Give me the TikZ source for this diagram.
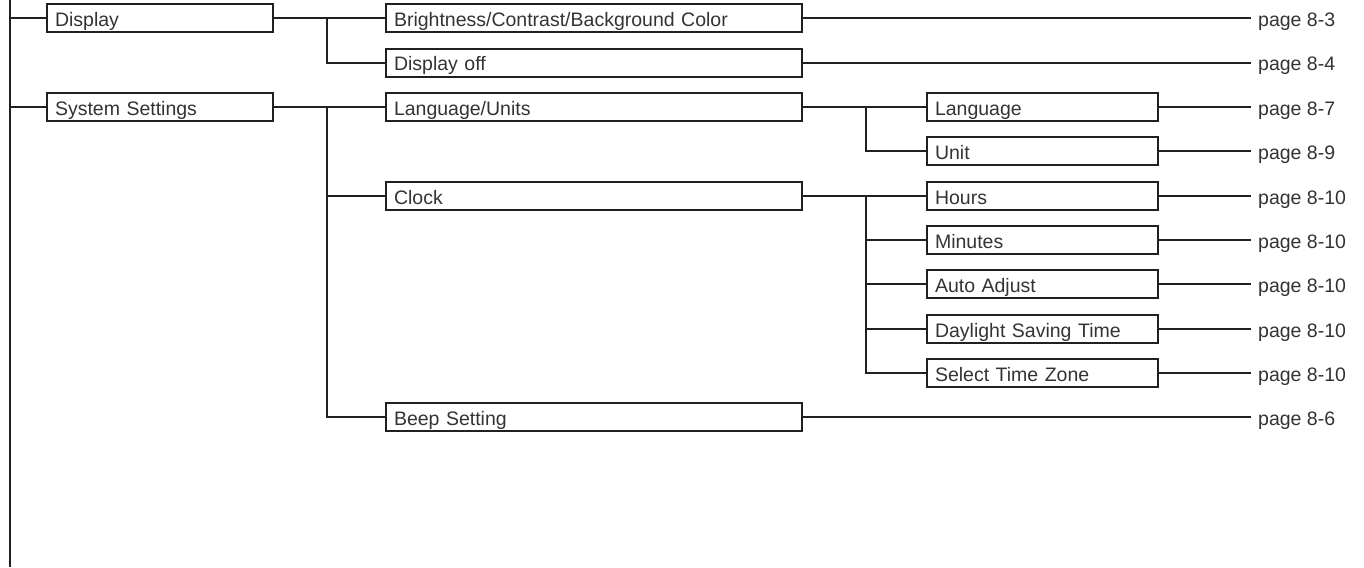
\documentclass[tikz,border=0pt]{standalone}
\usepackage{fontspec}
\setmainfont{Liberation Sans}
\definecolor{ink}{HTML}{231F20}
\definecolor{txt}{HTML}{333333}
\tikzset{
  conn/.style={draw=ink, line width=2pt},
  boxbase/.style={draw=ink, line width=2pt, rectangle, anchor=west, minimum height=28pt,
    inner xsep=8pt, inner ysep=0pt, align=left, text height=16.6pt, text depth=0pt,
    font=\fontsize{19.5}{20}\selectfont, text=txt},
  boxA/.style={boxbase, text width=210pt},
  boxB/.style={boxbase, text width=400pt},
  boxC/.style={boxbase, text width=215pt},
  pagelbl/.style={anchor=base west, inner xsep=7.5pt, inner ysep=0pt,
    font=\fontsize{19.5}{20}\selectfont, text=txt}
}
\begin{document}
\begin{tikzpicture}[x=1pt,y=-1pt]
\useasboundingbox (0,0) rectangle (1364,567);
\def\rA{18.3}\def\rB{62.65}\def\rC{107.0}\def\rD{151.35}\def\rE{195.7}
\def\rF{240.05}\def\rG{284.4}\def\rH{328.75}\def\rI{373.1}\def\rJ{417.45}
\coordinate (trunkTop) at (9.5,0);
\coordinate (trunkBot) at (9.5,567);
\coordinate (vA) at (327,0);
\coordinate (vB) at (866,0);
% level 1
\node[boxA] (disp) at (46,\rA) {Display};
\node[boxA] (sys) at (46,\rC) {System Settings};
% level 2
\node[boxB] (bright) at (385,\rA) {Brightness/Contrast/Background Color};
\node[boxB] (doff) at (385,\rB) {Display off};
\node[boxB] (lang) at (385,\rC) {Language/Units};
\node[boxB] (clock) at (385,\rE) {Clock};
\node[boxB] (beep) at (385,\rJ) {Beep Setting};
% level 3
\node[boxC] (language) at (926,\rC) {Language};
\node[boxC] (unit) at (926,\rD) {Unit};
\node[boxC] (hours) at (926,\rE) {Hours};
\node[boxC] (minutes) at (926,\rF) {Minutes};
\node[boxC] (auto) at (926,\rG) {Auto Adjust};
\node[boxC] (dst) at (926,\rH) {Daylight Saving Time};
\node[boxC] (tz) at (926,\rI) {Select Time Zone};
% page labels
\node[pagelbl] (pBright) at (1250.5,\rA+8.3) {page 8-3};
\node[pagelbl] (pDoff) at (1250.5,\rB+8.3) {page 8-4};
\node[pagelbl] (pLanguage) at (1250.5,\rC+8.3) {page 8-7};
\node[pagelbl] (pUnit) at (1250.5,\rD+8.3) {page 8-9};
\node[pagelbl] (pHours) at (1250.5,\rE+8.3) {page 8-10};
\node[pagelbl] (pMinutes) at (1250.5,\rF+8.3) {page 8-10};
\node[pagelbl] (pAuto) at (1250.5,\rG+8.3) {page 8-10};
\node[pagelbl] (pDst) at (1250.5,\rH+8.3) {page 8-10};
\node[pagelbl] (pTz) at (1250.5,\rI+8.3) {page 8-10};
\node[pagelbl] (pBeep) at (1250.5,\rJ+8.3) {page 8-6};
% connectors
\draw[conn] (trunkTop) -- (trunkBot);
\draw[conn] (trunkTop |- disp.west) -- (disp.west);
\draw[conn] (trunkTop |- sys.west) -- (sys.west);
\draw[conn] (disp.east) -- (bright.west);
\draw[conn] (vA |- disp.east) |- (doff.west);
\draw[conn] (sys.east) -- (lang.west);
\draw[conn] (vA |- sys.east) |- (beep.west);
\draw[conn] (vA |- clock.west) -- (clock.west);
\draw[conn] (lang.east) -- (language.west);
\draw[conn] (vB |- lang.east) |- (unit.west);
\draw[conn] (clock.east) -- (hours.west);
\draw[conn] (vB |- clock.east) |- (tz.west);
\foreach \b in {minutes,auto,dst} {\draw[conn] (vB |- \b.west) -- (\b.west);}
\foreach \b/\p in {bright/pBright,doff/pDoff,language/pLanguage,unit/pUnit,hours/pHours,minutes/pMinutes,auto/pAuto,dst/pDst,tz/pTz,beep/pBeep}
  {\draw[conn] (\b.east) -- (\b.east -| \p.west);}
\end{tikzpicture}
\end{document}
